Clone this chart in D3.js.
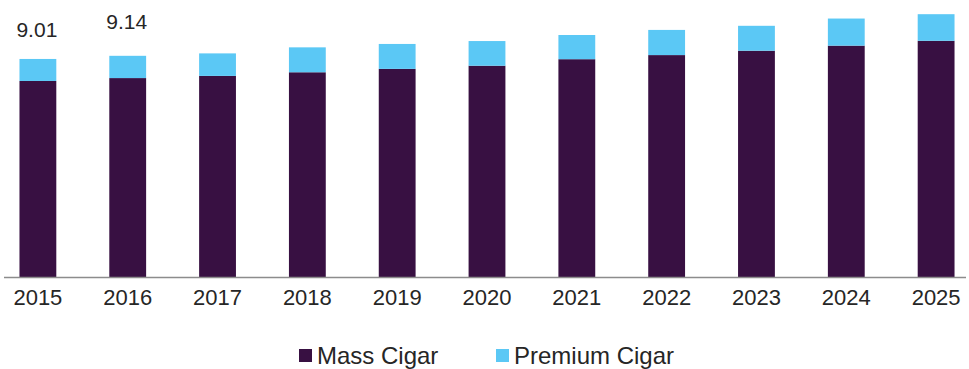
<!DOCTYPE html>
<html>
<head>
<meta charset="utf-8">
<script src="https://cdn.jsdelivr.net/npm/d3@7"></script>
<style>
  body { margin: 0; background: #fff; }
  text { font-family: "Liberation Sans", Arial, sans-serif; fill: #262626; }
</style>
</head>
<body>
<div id="container"></div>
<script>
let w = 969;
let h = 369;

// DATA (USD billion)
let years = ["2015","2016","2017","2018","2019","2020","2021","2022","2023","2024","2025"];
let massCigar    = [8.10, 8.22, 8.31, 8.46, 8.60, 8.73, 9.00, 9.17, 9.35, 9.56, 9.76];
let premiumCigar = [0.91, 0.92, 0.93, 1.03, 1.03, 1.02, 1.00, 1.04, 1.03, 1.12, 1.10];
let seriesNames = ["Mass Cigar", "Premium Cigar"];
let seriesColors = ["#381042", "#5bc8f5"];
// only the first two totals are printed
let labelYears = ["2015", "2016"];
let labelTexts = ["9.01", "9.14"];

let viz = d3.select("#container").append("svg")
    .attr("width", w)
    .attr("height", h)
;

// SCALES
let xScale = d3.scaleBand().domain(years).range([6, 968]).paddingInner(0.59).paddingOuter(0.15);
let yScale = d3.scaleLinear().domain([0, 11]).range([277, 277 - 11 * 24.2]);

// stack the two series
let rows = years.map(function(y, i){
  return {year: y, mass: massCigar[i], premium: premiumCigar[i]};
});
let stacked = d3.stack().keys(["mass", "premium"])(rows);

viz.selectAll(".series").data(stacked).enter()
  .append("g")
    .attr("class", "series")
    .attr("fill", function(d, i){ return seriesColors[i]; })
  .selectAll("rect").data(function(d){ return d; }).enter()
  .append("rect")
    .attr("x", function(d){ return xScale(d.data.year); })
    .attr("width", xScale.bandwidth())
    .attr("y", function(d){ return yScale(d[1]); })
    .attr("height", function(d){ return yScale(d[0]) - yScale(d[1]); })
;

// x axis
let xAxis = d3.axisBottom(xScale).tickSize(0).tickPadding(12);
let xg = viz.append("g")
    .attr("transform", "translate(0,277.5)")
    .call(xAxis);
xg.select(".domain").attr("stroke", "#8c8c8c").attr("stroke-width", 1.5).attr("d", "M4,0H966");
xg.selectAll("text")
    .style("font-family", "Liberation Sans, Arial, sans-serif")
    .style("font-size", "22px")
    .attr("fill", "#262626");

// total labels above the first two bars
let labelLift = [22, 27];
viz.selectAll(".total").data(labelYears).enter()
  .append("text")
    .attr("class", "total")
    .attr("x", function(d){ return xScale(d) + xScale.bandwidth() / 2 - 1; })
    .attr("y", function(d, i){
      let k = years.indexOf(d);
      return yScale(massCigar[k] + premiumCigar[k]) - labelLift[i];
    })
    .attr("text-anchor", "middle")
    .style("font-size", "21px")
    .text(function(d, i){ return labelTexts[i]; })
;

// legend
let legendX = [299, 496];
let legend = viz.selectAll(".legend").data(seriesNames).enter()
  .append("g")
    .attr("class", "legend")
    .attr("transform", function(d, i){ return "translate(" + legendX[i] + ",349)"; });
legend.append("rect")
    .attr("width", 13)
    .attr("height", 13)
    .attr("fill", function(d, i){ return seriesColors[i]; });
legend.append("text")
    .attr("x", 18)
    .attr("y", 15)
    .style("font-size", "24px")
    .text(function(d){ return d; });
</script>
</body>
</html>
